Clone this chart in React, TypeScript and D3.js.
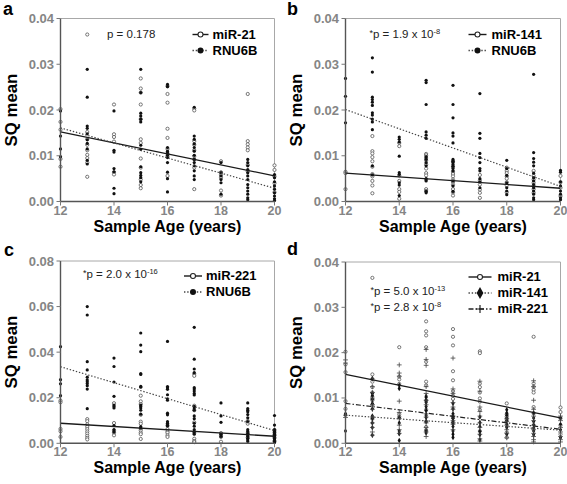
import React from 'react';
import * as d3 from 'd3';

// ---------- data ----------
const ages = [12, 13, 14, 15, 16, 17, 18, 19, 20];
const xTicks = [12, 14, 16, 18, 20];
const yTicks04 = [0, 0.01, 0.02, 0.03, 0.04];
const yTicks08 = [0, 0.02, 0.04, 0.06, 0.08];

// values per age (rows follow `ages`)
const miR21: number[][] = [
  [0.0202, 0.0174, 0.0157, 0.0093, 0.0076],
  [0.0365, 0.0152, 0.0136, 0.0124, 0.0112, 0.0102, 0.0095, 0.0085, 0.0054],
  [0.0212, 0.0147, 0.0141, 0.0131, 0.0064, 0.0059],
  [0.0269, 0.0247, 0.0238, 0.0212, 0.018, 0.0136, 0.0128, 0.0094, 0.0074, 0.0048, 0.0036, 0.0029],
  [0.0252, 0.0235, 0.0216, 0.0159, 0.0139, 0.0115, 0.0105, 0.0098, 0.0056],
  [0.0203, 0.0199, 0.0132, 0.0124, 0.0112, 0.0099, 0.0092, 0.0074, 0.0027],
  [0.0088, 0.0064, 0.0059, 0.0052, 0.0024, 0.0013],
  [0.0235, 0.0132, 0.0125, 0.0118, 0.0112, 0.008, 0.0066],
  [0.0079, 0.0069, 0.0055, 0.004, 0.002],
];
const rnu6bA: number[][] = [
  [0.0198, 0.0143, 0.0115, 0.0098],
  [0.0289, 0.0228, 0.0165, 0.016, 0.0148, 0.0135, 0.0127, 0.0115, 0.009, 0.0082],
  [0.0198, 0.0112, 0.0108, 0.0072, 0.0065, 0.0029, 0.0017],
  [0.0289, 0.0238, 0.0193, 0.0187, 0.018, 0.0174, 0.0123, 0.0114, 0.0076, 0.0063, 0.0057, 0.0052, 0.0043],
  [0.0256, 0.0251, 0.0118, 0.011, 0.0106, 0.0101, 0.0096, 0.0085, 0.0064, 0.005, 0.0021],
  [0.0206, 0.0143, 0.0136, 0.0126, 0.0118, 0.011, 0.0101, 0.0092, 0.0085, 0.0078, 0.0067, 0.0056, 0.0048],
  [0.0085, 0.0063, 0.0056, 0.0048, 0.0041, 0.0016],
  [0.0092, 0.0085, 0.0078, 0.007, 0.0063, 0.0056, 0.0048, 0.0037, 0.003, 0.0023, 0.0016, 0.0008, 0.0004],
  [0.0059, 0.0052, 0.0043, 0.0034, 0.0027, 0.0019, 0.0012, 0.0006, 0.0002],
];
const miR141: number[][] = [
  [0.0065, 0.0062, 0.0027],
  [0.0143, 0.011, 0.0105, 0.0097, 0.0088, 0.0076, 0.006, 0.0055, 0.0045, 0.0035, 0.0018],
  [0.0128, 0.0121, 0.0057, 0.0045, 0.0027, 0.0021, 0.0006],
  [0.0104, 0.0101, 0.0095, 0.009, 0.0081, 0.0072, 0.0062, 0.0057, 0.0048, 0.0027, 0.0023],
  [0.0088, 0.0076, 0.0065, 0.006, 0.0055, 0.0048, 0.0043, 0.0037, 0.0027, 0.002, 0.0013],
  [0.0058, 0.0046, 0.0037, 0.0026, 0.0019, 0.0008],
  [0.0074, 0.0067, 0.0062, 0.0055, 0.005, 0.0042, 0.0035, 0.002],
  [0.0067, 0.0056, 0.0048, 0.0041, 0.0034, 0.0027, 0.0019],
  [0.0056, 0.0042, 0.003, 0.0012],
];
const rnu6bB: number[][] = [
  [0.0269, 0.023, 0.0172],
  [0.0314, 0.0283, 0.0228, 0.0223, 0.0217, 0.021, 0.0194, 0.0189, 0.018, 0.0174, 0.0157, 0.0078, 0.0058],
  [0.0141, 0.0136, 0.013, 0.0099, 0.0063, 0.0059, 0.0041, 0.0036, 0.0013],
  [0.0265, 0.026, 0.0212, 0.0152, 0.0145, 0.0138, 0.0098, 0.0092, 0.0085, 0.0078, 0.005, 0.0045, 0.0022, 0.0019],
  [0.0254, 0.0212, 0.0183, 0.015, 0.0143, 0.0128, 0.0092, 0.0088, 0.0085, 0.0081, 0.0077, 0.0072, 0.0067, 0.0045, 0.0034, 0.0022],
  [0.0236, 0.0149, 0.0138, 0.0105, 0.0096, 0.0085, 0.0072, 0.0067, 0.005, 0.0043, 0.003],
  [0.009, 0.0072, 0.0057, 0.0041, 0.003, 0.0023, 0.0015],
  [0.0278, 0.0107, 0.0094, 0.0086, 0.0078, 0.0062, 0.0052, 0.0045, 0.0037, 0.003, 0.0023, 0.0016, 0.0008, 0.0004],
  [0.0068, 0.0064, 0.0043, 0.0034, 0.0023, 0.0016, 0.0008, 0.0004],
];
const miR221C: number[][] = [
  [0.0187, 0.018, 0.0063, 0.0053, 0.0028],
  [0.0106, 0.0097, 0.0083, 0.0072, 0.0062, 0.0052, 0.0043, 0.0033, 0.0024, 0.0017],
  [0.0176, 0.0089, 0.0056, 0.0047, 0.0035],
  [0.0209, 0.0184, 0.0172, 0.0125, 0.0095, 0.0086, 0.0064, 0.0057, 0.0047, 0.004, 0.0019],
  [0.0078, 0.0062, 0.0052, 0.0046, 0.0035, 0.0028],
  [0.0305, 0.0296, 0.0165, 0.0145, 0.0092, 0.0045, 0.002, 0.001, 0.0005],
  [0.0045, 0.0035, 0.0028, 0.0007],
  [0.0098, 0.0086, 0.0045, 0.0025],
  [0.0058, 0.0047, 0.0035, 0.0025, 0.001],
];
const rnu6bC: number[][] = [
  [0.0424, 0.0279, 0.0261, 0.0209],
  [0.06, 0.0563, 0.0358, 0.0322, 0.029, 0.0278, 0.027, 0.0262, 0.0253, 0.0238, 0.0152],
  [0.0374, 0.0337, 0.0269, 0.0206, 0.0168, 0.0162, 0.0155, 0.0078, 0.006, 0.005],
  [0.0484, 0.0431, 0.0402, 0.0306, 0.0302, 0.025, 0.0246, 0.0168, 0.0162, 0.0155, 0.0145, 0.0128, 0.0073, 0.0067],
  [0.0447, 0.0249, 0.0244, 0.0237, 0.0213, 0.0195, 0.0189, 0.0132, 0.0125, 0.0095, 0.0088, 0.008, 0.0076],
  [0.0509, 0.0369, 0.0326, 0.031, 0.0244, 0.0238, 0.0229, 0.0219, 0.0212, 0.0162, 0.0155, 0.0145, 0.012, 0.0108, 0.0088, 0.0075, 0.006, 0.005, 0.004],
  [0.0177, 0.012, 0.0092, 0.004, 0.003],
  [0.0177, 0.0152, 0.0145, 0.0138, 0.0126, 0.0112, 0.0095, 0.006, 0.0052, 0.0043, 0.0036, 0.003, 0.0022, 0.0015, 0.0008],
  [0.0122, 0.008, 0.006, 0.0052, 0.0045, 0.004, 0.0034, 0.0028, 0.0021, 0.0014, 0.0008, 0.0003],
];
const miR221D: number[][] = [
  [0.0184, 0.0177, 0.0062, 0.0057],
  [0.0142, 0.0125, 0.0112, 0.0098, 0.0085, 0.0075, 0.0058, 0.0045, 0.0035, 0.0025, 0.0018],
  [0.0173, 0.0155, 0.0148, 0.0093, 0.0068, 0.0055, 0.004, 0.003, 0.0022],
  [0.0207, 0.0185, 0.0172, 0.0125, 0.011, 0.0095, 0.0085, 0.0065, 0.0058, 0.0045, 0.0035, 0.0025, 0.0015],
  [0.0188, 0.012, 0.011, 0.009, 0.008, 0.0075, 0.006, 0.005, 0.0042, 0.003],
  [0.0137, 0.0115, 0.008, 0.007, 0.006, 0.0045, 0.0035, 0.002, 0.001, 0.0005],
  [0.0055, 0.0048, 0.004, 0.003, 0.0022, 0.0012],
  [0.0138, 0.0125, 0.0095, 0.0075, 0.006, 0.005, 0.004, 0.003, 0.0022, 0.0015, 0.0008, 0.0003],
  [0.006, 0.005, 0.0035, 0.0025, 0.0015, 0.0008, 0.0003],
];

// regression line values at age 12 and age 20
const fitMiR21 = [0.0152, 0.0056];
const fitMiR141 = [0.0062, 0.0029];
const fitMiR221 = [0.0088, 0.0031];
const fitRnuA = [0.0161, 0.0029];
const fitRnuB = [0.0201, 0.0033];
const fitRnuC = [0.0336, 0.0056];

// ---------- styles ----------
const FONT = "'Liberation Sans', Arial, Helvetica, sans-serif";
type Marker = 'open' | 'filled' | 'diamond' | 'plus';
type LineStyle = 'solid' | 'dotted' | 'dashdot';

const lineAttrs = (s: LineStyle) =>
  s === 'solid'
    ? { stroke: '#1a1a1a', strokeWidth: 1.3 }
    : s === 'dotted'
    ? { stroke: '#444', strokeWidth: 1.2, strokeDasharray: '1.4 1.8' }
    : { stroke: '#222', strokeWidth: 1.2, strokeDasharray: '5 2 1.5 2' };

function MarkerShape({ kind, x, y, big }: { kind: Marker; x: number; y: number; big?: boolean }) {
  if (kind === 'open')
    return <circle cx={x} cy={y} r={big ? 2.5 : 1.6} fill="#fff" stroke={big ? '#222' : '#555'} strokeWidth={big ? 1.1 : 0.8} />;
  if (kind === 'filled') return <circle cx={x} cy={y} r={big ? 3 : 1.6} fill="#111" />;
  if (kind === 'diamond') {
    const p = d3.symbol().type(d3.symbolDiamond).size(big ? 40 : 9)();
    return <path d={p || ''} transform={`translate(${x},${y})`} fill="#111" />;
  }
  const h = big ? 4 : 2.4;
  return (
    <path d={`M${x - h},${y}H${x + h}M${x},${y - h}V${y + h}`} stroke={big ? '#222' : '#444'} strokeWidth={big ? 1.2 : 0.8} fill="none" />
  );
}

interface Series {
  name: string;
  values: number[][];
  fit: number[];
  marker: Marker;
  line: LineStyle;
}
interface PText {
  star: boolean;
  main: string;
  exp?: string;
}
interface PanelCfg {
  letter: string;
  letterX: number;
  letterY: number;
  left: number;
  right: number;
  top: number;
  bottom: number;
  yMax: number;
  yTicks: number[];
  series: Series[];
  ptexts: PText[];
  pX: number;
  pY: number;
  legX: number;
  legY: number;
  legLine: [number, number];
}

const panels: PanelCfg[] = [
  {
    letter: 'a', letterX: 3, letterY: 15, left: 60.5, right: 274.5, top: 18.5, bottom: 201.5,
    yMax: 0.04, yTicks: yTicks04,
    series: [
      { name: 'miR-21', values: miR21, fit: fitMiR21, marker: 'open', line: 'solid' },
      { name: 'RNU6B', values: rnu6bA, fit: fitRnuA, marker: 'filled', line: 'dotted' },
    ],
    ptexts: [{ star: false, main: 'p = 0.178' }], pX: 107, pY: 38,
    legX: 212.5, legY: 38.5, legLine: [-20, -4],
  },
  {
    letter: 'b', letterX: 287, letterY: 15, left: 345.5, right: 560.5, top: 18.5, bottom: 201.5,
    yMax: 0.04, yTicks: yTicks04,
    series: [
      { name: 'miR-141', values: miR141, fit: fitMiR141, marker: 'open', line: 'solid' },
      { name: 'RNU6B', values: rnu6bB, fit: fitRnuB, marker: 'filled', line: 'dotted' },
    ],
    ptexts: [{ star: true, main: 'p = 1.9 x 10', exp: '-8' }], pX: 369.5, pY: 38,
    legX: 491.5, legY: 38.5, legLine: [-23, -5],
  },
  {
    letter: 'c', letterX: 4, letterY: 256, left: 60.5, right: 274.5, top: 261, bottom: 443.3,
    yMax: 0.08, yTicks: yTicks08,
    series: [
      { name: 'miR-221', values: miR221C, fit: fitMiR221, marker: 'open', line: 'solid' },
      { name: 'RNU6B', values: rnu6bC, fit: fitRnuC, marker: 'filled', line: 'dotted' },
    ],
    ptexts: [{ star: true, main: 'p = 2.0 x 10', exp: '-16' }], pX: 83, pY: 278,
    legX: 206, legY: 280, legLine: [-22, -4],
  },
  {
    letter: 'd', letterX: 287, letterY: 255, left: 345.5, right: 560.5, top: 262, bottom: 443.3,
    yMax: 0.04, yTicks: yTicks04,
    series: [
      { name: 'miR-21', values: miR21, fit: fitMiR21, marker: 'open', line: 'solid' },
      { name: 'miR-141', values: miR141, fit: fitMiR141, marker: 'diamond', line: 'dotted' },
      { name: 'miR-221', values: miR221D, fit: fitMiR221, marker: 'plus', line: 'dashdot' },
    ],
    ptexts: [
      { star: true, main: 'p = 5.0 x 10', exp: '-13' },
      { star: true, main: 'p = 2.8 x 10', exp: '-8' },
    ],
    pX: 370.5, pY: 295,
    legX: 497.5, legY: 281, legLine: [-29, -6],
  },
];

function Panel({ cfg }: { cfg: PanelCfg }) {
  const x = d3.scaleLinear().domain([12, 20]).range([cfg.left, cfg.right]);
  const y = d3.scaleLinear().domain([0, cfg.yMax]).range([cfg.bottom, cfg.top]);
  const fmt = d3.format('.2f');
  const line = d3.line<[number, number]>().x((d) => x(d[0])).y((d) => y(d[1]));
  const cy = (cfg.top + cfg.bottom) / 2;
  const cx = (cfg.left + cfg.right) / 2;
  const rowH = 16;
  return (
    <g fontFamily={FONT}>
      <text x={cfg.letterX} y={cfg.letterY} fontSize={18} fontWeight="bold" fill="#000">
        {cfg.letter}
      </text>
      {/* frame */}
      <line x1={cfg.left} x2={cfg.right} y1={cfg.top} y2={cfg.top} stroke="#a8a8a8" strokeWidth={1} />
      <line x1={cfg.right} x2={cfg.right} y1={cfg.top} y2={cfg.bottom} stroke="#a8a8a8" strokeWidth={1} />
      {/* points */}
      {cfg.series.map((s, si) => (
        <g key={'p' + si}>
          {s.values.map((vals, ai) =>
            vals.map((v, vi) => <MarkerShape key={ai + '-' + vi} kind={s.marker} x={x(ages[ai])} y={y(v)} />)
          )}
        </g>
      ))}
      {/* regression lines */}
      {cfg.series.map((s, si) => (
        <path key={'l' + si} d={line([[12, s.fit[0]], [20, s.fit[1]]]) || ''} fill="none" {...lineAttrs(s.line)} />
      ))}
      {/* axes */}
      <line x1={cfg.left} x2={cfg.left} y1={cfg.top} y2={cfg.bottom} stroke="#555" strokeWidth={1.4} />
      <line x1={cfg.left} x2={cfg.right} y1={cfg.bottom} y2={cfg.bottom} stroke="#555" strokeWidth={1.4} />
      {cfg.yTicks.map((t) => (
        <g key={'yt' + t}>
          <line x1={cfg.left - 4} x2={cfg.left} y1={y(t)} y2={y(t)} stroke="#777" strokeWidth={1} />
          <text x={cfg.left - 6.5} y={y(t) + 4.5} textAnchor="end" fontSize={13} fontWeight="bold" fill="#858585">
            {fmt(t)}
          </text>
        </g>
      ))}
      {xTicks.map((t) => (
        <g key={'xt' + t}>
          <line x1={x(t)} x2={x(t)} y1={cfg.bottom} y2={cfg.bottom + 4} stroke="#777" strokeWidth={1} />
          <text x={x(t)} y={cfg.bottom + 13} textAnchor="middle" fontSize={12.5} fontWeight="bold" fill="#858585">
            {t}
          </text>
        </g>
      ))}
      <text x={cx} y={cfg.bottom + 30} textAnchor="middle" fontSize={16} fontWeight="bold" fill="#000">
        Sample Age (years)
      </text>
      <text
        transform={`translate(${cfg.left - 44},${cy}) rotate(-90)`}
        textAnchor="middle"
        fontSize={16.8}
        fontWeight="bold"
        fill="#000"
      >
        SQ mean
      </text>
      {/* p values */}
      {cfg.ptexts.map((p, i) => (
        <text key={'pt' + i} x={cfg.pX} y={cfg.pY + i * 16} fontSize={11.5} fill="#222">
          {p.star ? (
            <tspan fontSize={9} dy={-2}>
              *
            </tspan>
          ) : null}
          <tspan dy={p.star ? 2 : 0}>{p.main}</tspan>
          {p.exp ? (
            <tspan fontSize={7.5} dy={-4.5}>
              {p.exp}
            </tspan>
          ) : null}
        </text>
      ))}
      {/* legend */}
      {cfg.series.map((s, i) => {
        const ly = cfg.legY + i * rowH - 4;
        const x1 = cfg.legX + cfg.legLine[0];
        const x2 = cfg.legX + cfg.legLine[1];
        return (
          <g key={'lg' + i}>
            <line x1={x1} x2={x2} y1={ly} y2={ly} fill="none" {...lineAttrs(s.line)} strokeWidth={1.4} />
            <MarkerShape kind={s.marker} x={(x1 + x2) / 2} y={ly} big />
            <text x={cfg.legX} y={cfg.legY + i * rowH} fontSize={13} fontWeight="bold" fill="#000">
              {s.name}
            </text>
          </g>
        );
      })}
    </g>
  );
}

export default function App() {
  return (
    <svg
      width={567}
      height={484}
      viewBox="0 0 567 484"
      style={{ position: 'absolute', left: 0, top: 0, background: '#fff' }}
    >
      <rect width={567} height={484} fill="#fff" />
      {panels.map((p) => (
        <Panel key={p.letter} cfg={p} />
      ))}
    </svg>
  );
}
